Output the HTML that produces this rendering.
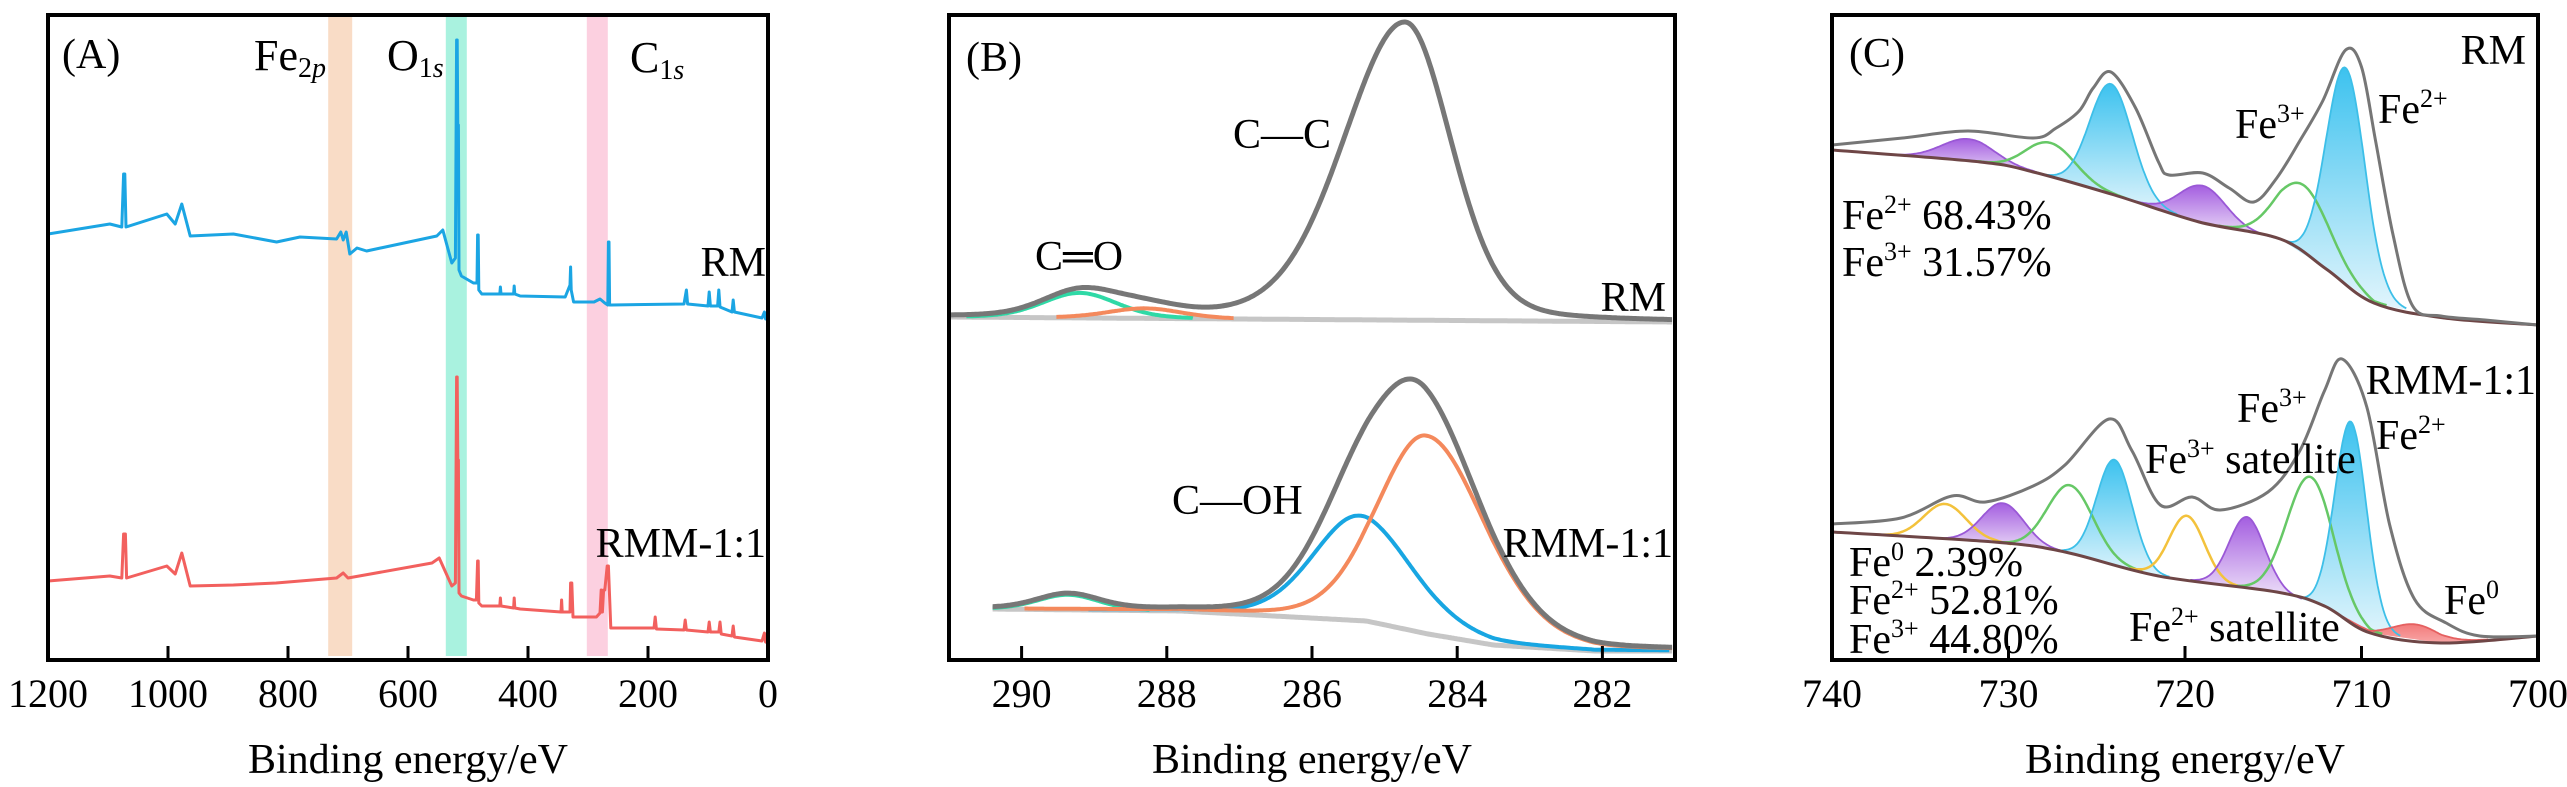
<!DOCTYPE html>
<html><head><meta charset="utf-8"><title>XPS spectra</title>
<style>
html,body{margin:0;padding:0;background:#fff;}
svg{display:block;font-family:"Liberation Serif","Times New Roman",serif;}
text{fill:#000;font-family:"Liberation Serif","Times New Roman",serif !important;}
</style></head>
<body>
<svg id="chart" xmlns="http://www.w3.org/2000/svg" width="2567" height="787" viewBox="0 0 2567 787" font-family="Liberation Serif, serif">
<defs>
<linearGradient id="gCyan" x1="0" y1="0" x2="0" y2="1"><stop offset="0" stop-color="#3cc2ef"/><stop offset="1" stop-color="#e2f5fc"/></linearGradient>
<linearGradient id="gPurple" x1="0" y1="0" x2="0" y2="1"><stop offset="0" stop-color="#a45ee0"/><stop offset="1" stop-color="#efe3f9"/></linearGradient>
<linearGradient id="gRed" x1="0" y1="0" x2="0" y2="1"><stop offset="0" stop-color="#f06a6a"/><stop offset="1" stop-color="#f8a5a5"/></linearGradient>
<clipPath id="clipA"><rect x="48" y="15" width="720" height="645"/></clipPath>
<clipPath id="clipB"><rect x="949" y="15" width="726" height="645"/></clipPath>
<clipPath id="clipC"><rect x="1832" y="15" width="706" height="645"/></clipPath>
</defs>
<rect width="2567" height="787" fill="#fff"/>

<g id="bandsA"></g>
<g id="plotA" clip-path="url(#clipA)"></g>
<g id="plotB" clip-path="url(#clipB)"></g>
<g id="plotC" clip-path="url(#clipC)"></g>

<rect x="48" y="15" width="720" height="645" fill="none" stroke="#000" stroke-width="4"/>
<rect x="949" y="15" width="726" height="645" fill="none" stroke="#000" stroke-width="4"/>
<rect x="1832" y="15" width="706" height="645" fill="none" stroke="#000" stroke-width="4"/>
<g id="ticks"></g>

<text x="62" y="68" font-size="42">(A)</text>
<text x="254" y="70" font-size="44">Fe<tspan font-size="28" dy="7">2</tspan><tspan font-size="28" font-style="italic">p</tspan></text>
<text x="387" y="70" font-size="44">O<tspan font-size="28" dy="7">1</tspan><tspan font-size="28" font-style="italic">s</tspan></text>
<text x="630" y="72" font-size="44">C<tspan font-size="28" dy="7">1</tspan><tspan font-size="28" font-style="italic">s</tspan></text>
<text x="766" y="276" font-size="42" text-anchor="end">RM</text>
<text x="766" y="557" font-size="42" text-anchor="end">RMM-1:1</text>

<text x="966" y="71" font-size="42">(B)</text>
<text x="1233" y="148" font-size="42">C—C</text>
<text x="1035" y="270" font-size="42">C═O</text>
<text x="1666" y="311" font-size="42" text-anchor="end">RM</text>
<text x="1172" y="514" font-size="42">C—OH</text>
<text x="1673" y="557" font-size="42" text-anchor="end">RMM-1:1</text>

<text x="1849" y="67" font-size="42">(C)</text>
<text x="2526" y="64" font-size="42" text-anchor="end">RM</text>
<text x="2235" y="138" font-size="42">Fe<tspan font-size="26" dy="-16">3+</tspan></text>
<text x="2378" y="123" font-size="42">Fe<tspan font-size="26" dy="-16">2+</tspan></text>
<text x="1842" y="229" font-size="42">Fe<tspan font-size="26" dy="-16">2+</tspan><tspan dy="16"> 68.43%</tspan></text>
<text x="1842" y="276" font-size="42">Fe<tspan font-size="26" dy="-16">3+</tspan><tspan dy="16"> 31.57%</tspan></text>
<text x="2536" y="394" font-size="42" text-anchor="end">RMM-1:1</text>
<text x="2237" y="422" font-size="42">Fe<tspan font-size="26" dy="-16">3+</tspan></text>
<text x="2376" y="449" font-size="42">Fe<tspan font-size="26" dy="-16">2+</tspan></text>
<text x="2145" y="473" font-size="42">Fe<tspan font-size="26" dy="-16">3+</tspan><tspan dy="16"> satellite</tspan></text>
<text x="1849" y="576" font-size="42">Fe<tspan font-size="26" dy="-16">0</tspan><tspan dy="16"> 2.39%</tspan></text>
<text x="1849" y="614" font-size="42">Fe<tspan font-size="26" dy="-16">2+</tspan><tspan dy="16"> 52.81%</tspan></text>
<text x="1849" y="653" font-size="42">Fe<tspan font-size="26" dy="-16">3+</tspan><tspan dy="16"> 44.80%</tspan></text>
<text x="2129" y="641" font-size="42">Fe<tspan font-size="26" dy="-16">2+</tspan><tspan dy="16"> satellite</tspan></text>
<text x="2444" y="614" font-size="42">Fe<tspan font-size="26" dy="-16">0</tspan></text>

<text x="408" y="773" font-size="42" text-anchor="middle">Binding energy/eV</text>
<text x="1312" y="773" font-size="42" text-anchor="middle">Binding energy/eV</text>
<text x="2185" y="773" font-size="42" text-anchor="middle">Binding energy/eV</text>
</svg>

<script>
// ---------------- Panel A data (survey) ----------------
const aTicks = [1200, 1000, 800, 600, 400, 200, 0];
const aBands = [[733, 693, '#f9dcc6', 'fe2p-band'], [537, 502, '#a9f2df', 'o1s-band'], [302, 267, '#fcd0e0', 'c1s-band']];
const rmEnergy = [1200,1097,1077,1074,1072,1070,1002,988,977,963,891,819,780,719,712,708,703,697,685,669,552,542,527,521,519,518,517,516,515,511,491,485,484,483,482,477,447,446,445,424,423,422,413,338,330,329,328,324,290,280,272,267,266,265,264,261,140,136,134,100,98,96,84,82,80,60,58,56,10,6,4,0];
const rmIntensity = [426,436,433,486,486,433,446,436,456,424,426,418,423,421,428,420,428,406,412,409,424,430,397,402,620,620,535,535,390,384,377,377,425,425,370,366,366,373,366,366,374,366,364,363,375,393,370,358,358,361,357,355,418,418,355,355,356,370,356,354,368,354,354,370,353,348,360,348,342,348,341,341];
const rmmEnergy = [1200,1097,1077,1074,1071,1069,1002,988,977,963,891,820,719,708,700,560,548,527,521,519,518,517,516,515,511,491,486,484,483,482,477,447,446,445,424,423,422,413,345,344,343,330,329,327,325,286,280,278,276,274,272,268,266,262,190,188,186,140,138,136,100,98,96,82,80,78,60,58,56,10,6,4,0];
const rmmIntensity = [79,84,82,126,126,82,94,86,107,74,75,77,82,87,82,97,102,74,77,283,283,200,200,67,64,60,60,99,99,57,54,54,62,54,52,62,52,51,48,60,48,48,77,77,43,43,47,70,48,70,70,94,94,32,32,43,31,30,40,30,28,38,28,28,38,26,24,34,23,19,27,18,17];

// ---------------- Panel B data (C 1s) ----------------
const bTicks = [290, 288, 286, 284, 282];
const bRmBgEnergy = [291, 281];
const bRmBg = [343, 338];
const bRmCenters = [284.72, 289.2, 288.3];
const bRmHeights = [298, 25, 10];
const bRmWidthHigh = [1.0, 0.6, 0.6];
const bRmWidthLow = [0.75, 0.6, 0.6];
const bRmColors = ['none', '#2fd9a6', '#f4895c'];
const bRmmBgEnergy = [290.4, 287.8, 285.25, 284.4, 283.5, 282.1, 281];
const bRmmBg = [51, 49, 39, 26, 15, 9, 9];
const bRmmCenters = [289.36, 285.35, 284.42];
const bRmmHeights = [15, 105, 198];
const bRmmWidthHigh = [0.5, 0.75, 0.8];
const bRmmWidthLow = [0.5, 0.85, 0.95];
const bRmmColors = ['#2fd9a6', '#18a6e2', '#f4895c'];

// ---------------- Panel C data (Fe 2p) ----------------
const cTicks = [740, 730, 720, 710, 700];
const cRmBgEnergy = [740, 731.6, 728.6, 724, 719.2, 714.6, 712, 709.3, 705.3, 700];
const cRmBg = [510, 498, 488, 465, 438, 421, 391, 357, 342, 335];
const cRmEnvEnergy = [740,736,732.3,728.6,727.3,726,725.2,724.2,722.8,721.5,720.9,719,717.5,716.1,714.8,713.5,712.2,710.9,710,709.2,708.2,707.1,705.5,703,700];
const cRmEnv = [515,522,529,522,532,549,572,588,552,498,485,487,472,458,482,519,559,610,593,519,424,354,344,340,335];
const cRmCenters = [732.3, 727.6, 724.2, 719.0, 713.3, 710.9];
const cRmHeights = [22, 34, 110, 37, 69, 215];
const cRmSigmas = [1.5, 1.4, 1.2, 1.3, 1.5, 1.1];
const cRmKinds = ['purple', 'green', 'cyan', 'purple', 'green', 'cyan'];
const cRmmBgEnergy = [740, 730.8, 726.8, 721.5, 714.8, 712.1, 709.5, 705.5, 700];
const cRmmBg = [128, 118, 108, 84, 68, 54, 27, 17, 24];
const cRmmEnvEnergy = [740,736.1,733.2,731.3,728.6,726.8,724.3,723,721.4,719.6,718,715.3,713.5,712.1,711.1,709.7,708.4,707,705.2,703.3,700];
const cRmmEnv = [136,142,164,158,174,195,241,209,155,163,150,168,209,269,301,253,135,61,37,24,24];
const cRmmCenters = [733.6, 730.3, 726.5, 724.0, 719.9, 716.5, 712.9, 710.6, 706.9];
const cRmmHeights = [35, 40, 68, 105, 64, 71, 125, 200, 15];
const cRmmSigmas = [1.2, 1.2, 1.3, 1.0, 1.0, 1.0, 1.3, 0.9, 1.3];
const cRmmKinds = ['yellow', 'purple', 'green', 'cyan', 'yellow', 'purple', 'green', 'cyan', 'red'];

// ---------------- scales ----------------
const NS = 'http://www.w3.org/2000/svg';
const BOTTOM = 660;
function xA(e) { return 48 + (1200 - e) * 0.6; }
function xB(e) { return 949 + (291 - e) * 72.6; }
function xC(e) { return 1832 + (740 - e) * 17.65; }
function yV(v) { return BOTTOM - v; }

function interp(es, vs, e) {
  if (e >= es[0]) return vs[0];
  for (let i = 0; i < es.length - 1; i++) {
    if (e <= es[i] && e >= es[i + 1]) {
      const t = (es[i] - e) / (es[i] - es[i + 1] || 1);
      return vs[i] + t * (vs[i + 1] - vs[i]);
    }
  }
  return vs[vs.length - 1];
}
function pv(e, c, h, wHigh, wLow) {
  const d = e - c; const w = d > 0 ? wHigh : wLow;
  const r = (d / w) * (d / w);
  return h * (0.8 * Math.exp(-Math.LN2 * r) + 0.2 / (1 + r));
}
function gauss(e, c, h, s) { const d = e - c; return h * Math.exp(-d * d / (2 * s * s)); }
function smoothPath(pts) {
  let d = 'M' + pts[0][0].toFixed(1) + ',' + pts[0][1].toFixed(1);
  for (let i = 0; i < pts.length - 1; i++) {
    const p0 = pts[i - 1] || pts[i], p1 = pts[i], p2 = pts[i + 1], p3 = pts[i + 2] || p2;
    const c1x = p1[0] + (p2[0] - p0[0]) / 6, c1y = p1[1] + (p2[1] - p0[1]) / 6;
    const c2x = p2[0] - (p3[0] - p1[0]) / 6, c2y = p2[1] - (p3[1] - p1[1]) / 6;
    d += 'C' + c1x.toFixed(1) + ',' + c1y.toFixed(1) + ' ' + c2x.toFixed(1) + ',' + c2y.toFixed(1) + ' ' + p2[0].toFixed(1) + ',' + p2[1].toFixed(1);
  }
  return d;
}
function linePath(pts) { return 'M' + pts.map(p => p[0].toFixed(1) + ',' + p[1].toFixed(1)).join('L'); }
function newPath(parent, d, stroke, sw, fill) {
  const el = document.createElementNS(NS, 'path');
  el.setAttribute('d', d);
  el.setAttribute('stroke', stroke);
  el.setAttribute('stroke-width', sw);
  el.setAttribute('fill', fill || 'none');
  el.setAttribute('stroke-linejoin', 'round');
  parent.appendChild(el);
  return el;
}

// ---------------- Panel A ----------------
const bandsA = document.getElementById('bandsA');
aBands.forEach(b => {
  const r = document.createElementNS(NS, 'rect');
  r.setAttribute('x', xA(b[0]));
  r.setAttribute('y', 15);
  r.setAttribute('width', xA(b[1]) - xA(b[0]));
  r.setAttribute('height', 641);
  r.setAttribute('fill', b[2]);
  
  
  bandsA.appendChild(r);
});
const plotA = document.getElementById('plotA');
let pA = newPath(plotA, linePath(rmEnergy.map((e, i) => [xA(e), yV(rmIntensity[i])])), '#1ba5e3', 3);


pA = newPath(plotA, linePath(rmmEnergy.map((e, i) => [xA(e), yV(rmmIntensity[i])])), '#f2605e', 3);



// ---------------- Panel B ----------------
const plotB = document.getElementById('plotB');
function drawB(bgE, bgV, cs, hs, wh, wl, cols, eStart, tag) {
  const step = 0.04, es = [];
  for (let e = eStart; e >= 281; e -= step) es.push(e);
  let el = newPath(plotB, smoothPath(es.map(e => [xB(e), yV(interp(bgE, bgV, e))])), '#c6c6c6', 5);
  
  
  cs.forEach((c, k) => {
    if (cols[k] === 'none') return;
    const pts = es.filter(e => pv(e, c, hs[k], wh[k], wl[k]) > 0.8).map(e => [xB(e), yV(interp(bgE, bgV, e) + pv(e, c, hs[k], wh[k], wl[k]))]);
    if (pts.length < 2) return;
    const p = newPath(plotB, smoothPath(pts), cols[k], 4);
    
    
  });
  const env = es.map(e => {
    let v = interp(bgE, bgV, e);
    cs.forEach((c, k) => { v += pv(e, c, hs[k], wh[k], wl[k]); });
    return [xB(e), yV(v)];
  });
  el = newPath(plotB, smoothPath(env), '#777', 5);
  
  
}
drawB(bRmBgEnergy, bRmBg, bRmCenters, bRmHeights, bRmWidthHigh, bRmWidthLow, bRmColors, 291, 'b-rm');
drawB(bRmmBgEnergy, bRmmBg, bRmmCenters, bRmmHeights, bRmmWidthHigh, bRmmWidthLow, bRmmColors, 290.4, 'b-rmm');

// ---------------- Panel C ----------------
const plotC = document.getElementById('plotC');
const kindFill = { cyan: 'url(#gCyan)', purple: 'url(#gPurple)', red: 'url(#gRed)', green: 'none', yellow: 'none' };
const kindStroke = { cyan: '#3dbfe8', purple: '#9a58d6', red: '#e56060', green: '#66c866', yellow: '#f3c23c' };
function drawC(bgE, bgV, envE, envV, cs, hs, ss, kinds, tag) {
  const step = 0.08;
  const strokes = [];
  cs.forEach((c, k) => {
    const es = [];
    for (let e = c + 3.2 * ss[k]; e >= c - 3.2 * ss[k]; e -= step) if (e <= 740 && e >= 700) es.push(e);
    const top = es.map(e => [xC(e), yV(interp(bgE, bgV, e) + gauss(e, c, hs[k], ss[k]))]);
    if (kindFill[kinds[k]] !== 'none') {
      const bot = es.slice().reverse().map(e => [xC(e), yV(interp(bgE, bgV, e))]);
      const f = newPath(plotC, linePath(top.concat(bot)) + 'Z', 'none', 0, kindFill[kinds[k]]);
      
      
    }
    strokes.push([top, k]);
  });
  strokes.forEach(s => {
    const k = s[1];
    const p = newPath(plotC, linePath(s[0]), kindStroke[kinds[k]], kinds[k] === 'green' || kinds[k] === 'yellow' ? 2.5 : 1.8);
    
    
  });
  let el = newPath(plotC, smoothPath(bgE.map((e, i) => [xC(e), yV(bgV[i])])), '#6e4646', 3);
  
  
  el = newPath(plotC, smoothPath(envE.map((e, i) => [xC(e), yV(envV[i])])), '#767676', 3);
  
  
}
drawC(cRmBgEnergy, cRmBg, cRmEnvEnergy, cRmEnv, cRmCenters, cRmHeights, cRmSigmas, cRmKinds, 'c-rm');
drawC(cRmmBgEnergy, cRmmBg, cRmmEnvEnergy, cRmmEnv, cRmmCenters, cRmmHeights, cRmmSigmas, cRmmKinds, 'c-rmm');

// ---------------- ticks & tick labels ----------------
const tg = document.getElementById('ticks');
function ticks(vals, sx, lo, hi, tag) {
  vals.forEach(v => {
    const x = sx(v);
    if (x > lo + 3 && x < hi - 3) {
      const t = document.createElementNS(NS, 'line');
      t.setAttribute('x1', x); t.setAttribute('x2', x);
      t.setAttribute('y1', BOTTOM); t.setAttribute('y2', BOTTOM - 14);
      t.setAttribute('stroke', '#000'); t.setAttribute('stroke-width', 3);
      
      
      tg.appendChild(t);
    }
    const lb = document.createElementNS(NS, 'text');
    lb.setAttribute('x', x); lb.setAttribute('y', 707);
    lb.setAttribute('font-size', 40);
    lb.setAttribute('text-anchor', 'middle');
    lb.textContent = String(v);
    
    
    tg.appendChild(lb);
  });
}
ticks(aTicks, xA, 48, 768, 'panel-a');
ticks(bTicks, xB, 949, 1675, 'panel-b');
ticks(cTicks, xC, 1832, 2538, 'panel-c');

document.querySelectorAll('text').forEach(t => t.setAttribute('font-family', '"Liberation Serif", "Times New Roman", serif'));
</script>
</body></html>
